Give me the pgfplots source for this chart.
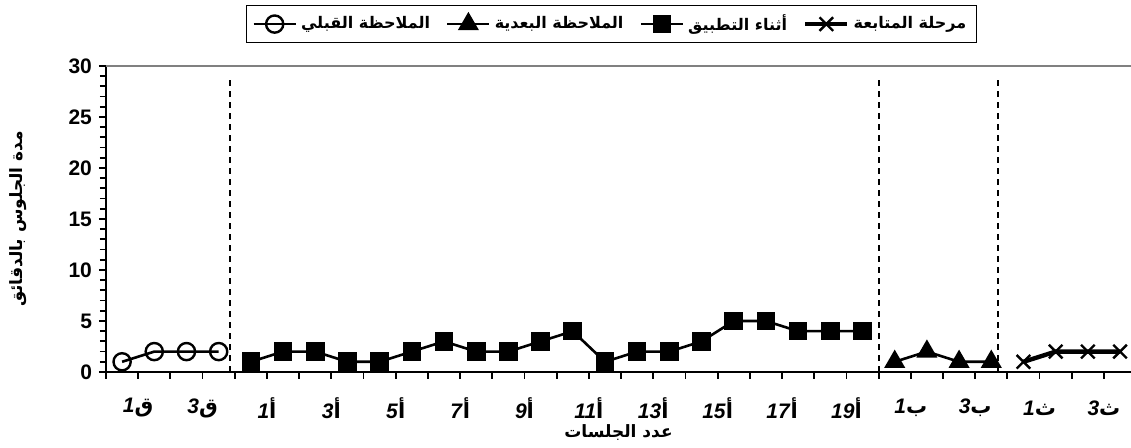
\documentclass[border=0pt]{standalone}
\usepackage{fontspec}
\setmainfont{Liberation Sans}
\newfontfamily\arabicfont[Script=Arabic]{DejaVu Sans}
\TeXXeTstate=1
\usepackage{pgfplots}
\pgfplotsset{compat=1.18}

\newcommand{\lab}[2]{\textbf{\textit{#1}}{\arabicfont\bfseries #2}}

\begin{document}
\begin{tikzpicture}
\useasboundingbox (-53pt,-38pt) rectangle (512.5pt,186pt);
\begin{axis}[
 at={(0,0)}, anchor=south west,
 scale only axis, width=512.5pt, height=153pt,
 xmin=-0.5, xmax=31.34, ymin=0, ymax=30,
 axis x line*=bottom, axis y line*=left,
 axis line style={line width=1pt,-},
 xtick={-0.5,0.5,...,30.5},
 xticklabels={,\lab{1}{ق},,\lab{3}{ق},,\lab{1}{أ},,\lab{3}{أ},,\lab{5}{أ},,\lab{7}{أ},,\lab{9}{أ},,\lab{11}{أ},,\lab{13}{أ},,\lab{15}{أ},,\lab{17}{أ},,\lab{19}{أ},,\lab{1}{ب},,\lab{3}{ب},,\lab{1}{ث},,\lab{3}{ث}},
 ytick={0,5,...,30},
 minor y tick num=4,
 tick align=outside,
 major tick length=3.5pt, minor tick length=3pt,
 tick style={line width=0.9pt, black},
 /pgf/number format/assume math mode=true,
 ticklabel style={font=\fontsize{10.5}{12}\selectfont\bfseries},
 xticklabel style={anchor=center, yshift=-14.5pt},
 xlabel={\arabicfont\bfseries\beginR عدد الجلسات\endR},
 xlabel style={at={(axis description cs:0.5,-0.198)}, anchor=center, font=\fontsize{8.5}{10}\selectfont},
 ylabel={\arabicfont\bfseries\beginR مدة الجلوس بالدقائق\endR},
 ylabel style={at={(axis description cs:-0.0859,0.5)}, anchor=center, font=\fontsize{8.5}{10}\selectfont},
 legend columns=4,
 legend style={at={(0.493,1.137)}, anchor=center, draw=black, line width=0.8pt,
   font=\fontsize{8}{10}\selectfont, inner ysep=2.5pt,
   /tikz/every even column/.append style={column sep=6pt}},
 legend image code/.code={\draw[mark repeat=2,mark phase=2,#1] plot coordinates {(0cm,0cm) (0.37cm,0cm) (0.74cm,0cm)};},
]
\draw[gray, line width=1.3pt] (rel axis cs:0,1) -- (rel axis cs:1,1);
\addplot[black, line width=1.3pt, mark=o, mark size=4.3pt, mark options={fill=white, line width=1.2pt}]
 coordinates {(0,1) (1,2) (2,2) (3,2)};
\addlegendentry{\arabicfont\bfseries\beginR الملاحظة القبلي\endR}
\addplot[black, line width=1.3pt, mark=triangle*, mark size=4.8pt, mark options={fill=black}]
 coordinates {(24,1) (25,2) (26,1) (27,1)};
\addlegendentry{\arabicfont\bfseries\beginR الملاحظة البعدية\endR}
\addplot[black, line width=1.3pt, mark=square*, mark size=4pt, mark options={fill=black}]
 coordinates {(4,1) (5,2) (6,2) (7,1) (8,1) (9,2) (10,3) (11,2) (12,2) (13,3) (14,4) (15,1) (16,2) (17,2) (18,3) (19,5) (20,5) (21,4) (22,4) (23,4)};
\addlegendentry{\arabicfont\bfseries\beginR أثناء التطبيق\endR}
\addplot[black, line width=2.2pt, mark=x, mark size=4.8pt, mark options={line width=1.2pt}]
 coordinates {(28,1) (29,2) (30,2) (31,2)};
\addlegendentry{\arabicfont\bfseries\beginR مرحلة المتابعة\endR}
\draw[black, line width=0.9pt, dash pattern=on 3pt off 2.5pt] (axis cs:3.35,0) -- (axis cs:3.35,29);
\draw[black, line width=0.9pt, dash pattern=on 3pt off 2.5pt] (axis cs:23.5,0) -- (axis cs:23.5,29);
\draw[black, line width=0.9pt, dash pattern=on 3pt off 2.5pt] (axis cs:27.2,0) -- (axis cs:27.2,29);
\end{axis}
\end{tikzpicture}
\end{document}
